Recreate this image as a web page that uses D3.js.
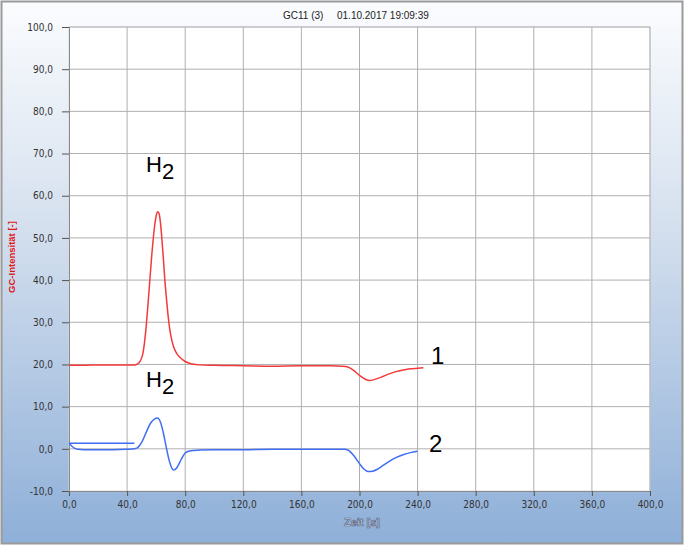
<!DOCTYPE html>
<html>
<head>
<meta charset="utf-8">
<script src="https://cdn.jsdelivr.net/npm/d3@7"></script>
<style>
  body { margin: 0; background: #fff; }
  text { font-family: "Liberation Sans", Arial, sans-serif; }
</style>
</head>
<body>
<div id="chart"></div>
<script>
// data
const xTicks = [0, 40, 80, 120, 160, 200, 240, 280, 320, 360, 400];
const yTicks = [-10, 0, 10, 20, 30, 40, 50, 60, 70, 80, 90, 100];

const redT = [0,10,20,30,40,45,47,49,51,53,55,57,59,60,61,62,63,64,65,66,67,68,69,70,72,74,76,78,80,85,90,100,120,140,160,180,188,192,196,200,204,207,210,215,220,225,230,235,240,244];
const redV = [19.8,19.8,19.9,19.9,19.9,19.9,20.1,20.8,22.8,28.5,37,46,53,55.2,56.2,55.8,53.5,49.5,45,40,36,32.3,29.3,27,24.2,22.7,21.8,21.2,20.7,20.1,19.9,19.8,19.7,19.6,19.7,19.7,19.6,19.4,18.6,17.4,16.5,16.2,16.4,17.0,17.7,18.3,18.7,19.0,19.1,19.2];

const blueT = [0,2,4,6,10,20,30,40,45,47,50,53,56,59,61,63,65,67,69,71,72,74,76,78,80,83,90,100,120,140,160,180,190,193,196,200,203,206,209,212,216,220,225,230,235,240];
const blueV = [1.3,0.6,0.1,-0.1,-0.2,-0.2,-0.2,-0.1,0.0,0.2,1.5,3.8,6.0,7.1,7.3,6.3,3.7,0.3,-2.8,-4.7,-5.0,-4.6,-3.4,-2.0,-1.0,-0.5,-0.3,-0.2,-0.2,-0.1,-0.1,-0.1,-0.1,-0.5,-1.6,-3.5,-4.8,-5.4,-5.3,-4.9,-4.0,-3.1,-2.1,-1.4,-0.9,-0.6];

const flatT = [0, 45];
const flatV = [1.3, 1.3];

const W = 685, H = 547;
const plot = {left: 69, right: 650, top: 27, bottom: 491};

const svg = d3.select("#chart")
    .append("svg")
    .attr("width", W)
    .attr("height", H);

// background gradient
const grad = svg.append("defs").append("linearGradient")
    .attr("id", "bg").attr("x1", 0).attr("y1", 0).attr("x2", 0).attr("y2", 1);
grad.append("stop").attr("offset", "0%").attr("stop-color", "#fbfcfe");
grad.append("stop").attr("offset", "40%").attr("stop-color", "#d6e1ef");
grad.append("stop").attr("offset", "100%").attr("stop-color", "#8eafd8");

svg.append("rect")
    .attr("x", 1.5).attr("y", 1.5)
    .attr("width", W - 4).attr("height", H - 5)
    .attr("fill", "url(#bg)")
    .attr("stroke", "#9a9a9a")
    .attr("stroke-width", 2);

const x = d3.scaleLinear().domain([0, 400]).range([plot.left, plot.right]);
const y = d3.scaleLinear().domain([-10, 100]).range([plot.bottom, plot.top]);

svg.append("rect")
    .attr("x", plot.left).attr("y", plot.top)
    .attr("width", plot.right - plot.left).attr("height", plot.bottom - plot.top)
    .attr("fill", "#fff")
    .attr("stroke", "#d8d8d8");

// grid
svg.append("g").selectAll("line")
    .data(xTicks.slice(1))
    .join("line")
    .attr("x1", d => x(d)).attr("x2", d => x(d))
    .attr("y1", plot.top).attr("y2", plot.bottom)
    .attr("stroke", "#b0b0b0");

svg.append("g").selectAll("line")
    .data(yTicks.slice(1))
    .join("line")
    .attr("x1", plot.left).attr("x2", plot.right)
    .attr("y1", d => y(d)).attr("y2", d => y(d))
    .attr("stroke", "#b0b0b0");

// axes
const fmt = d => d.toFixed(1).replace(".", ",");

const gx = svg.append("g")
    .attr("transform", `translate(0, ${plot.bottom})`)
    .call(d3.axisBottom(x).tickValues(xTicks).tickFormat(fmt).tickSize(5).tickPadding(5));
const gy = svg.append("g")
    .attr("transform", `translate(${plot.left}, 0)`)
    .call(d3.axisLeft(y).tickValues(yTicks).tickFormat(fmt).tickSize(7).tickPadding(9));

[gx, gy].forEach(g => {
  g.select(".domain").attr("stroke", "#8a8a8a");
  g.selectAll(".tick line").attr("stroke", "#555");
  g.selectAll(".tick text")
    .attr("fill", "#333")
    .style("font-size", "10px")
    .style("font-family", "'DejaVu Sans Condensed', 'Liberation Sans', sans-serif");
});

// title
svg.append("text")
    .attr("x", 283).attr("y", 19)
    .style("font-size", "10px")
    .attr("fill", "#222")
    .text("GC11 (3)");
svg.append("text")
    .attr("x", 337).attr("y", 19)
    .style("font-size", "10px")
    .attr("fill", "#222")
    .text("01.10.2017 19:09:39");

// axis labels
svg.append("text")
    .attr("transform", "translate(15, 257) rotate(-90)")
    .attr("text-anchor", "middle")
    .style("font-size", "9.5px")
    .style("font-weight", "bold")
    .attr("fill", "#e01818")
    .text("GC-Intensität [-]");

svg.append("text")
    .attr("x", 362).attr("y", 526)
    .attr("text-anchor", "middle")
    .style("font-size", "11px")
    .style("font-weight", "bold")
    .attr("fill", "#c9d3e6")
    .attr("stroke", "#5f6985")
    .attr("stroke-width", 0.7)
    .text("Zeit [s]");

// curves
const line = d3.line()
    .x(d => x(d[0]))
    .y(d => y(d[1]))
    .curve(d3.curveMonotoneX);

const red = d3.zip(redT, redV);
const blue = d3.zip(blueT, blueV);
const flat = d3.zip(flatT, flatV);

svg.append("path").datum(red)
    .attr("fill", "none").attr("stroke", "#f23a3a").attr("stroke-width", 1.5)
    .attr("d", line);
svg.append("path").datum(flat)
    .attr("fill", "none").attr("stroke", "#3f6ef2").attr("stroke-width", 1.5)
    .attr("d", line);
svg.append("path").datum(blue)
    .attr("fill", "none").attr("stroke", "#3f6ef2").attr("stroke-width", 1.5)
    .attr("d", line);

// annotations
function h2(px, py) {
  const t = svg.append("text")
      .attr("x", px).attr("y", py)
      .style("font-size", "22px")
      .attr("fill", "#000");
  t.append("tspan").text("H");
  t.append("tspan").attr("dy", 7).text("2");
}
h2(146, 172);
h2(146, 387);

svg.append("text").attr("x", 431).attr("y", 364)
    .style("font-size", "24px").attr("fill", "#000").text("1");
svg.append("text").attr("x", 429).attr("y", 452)
    .style("font-size", "24px").attr("fill", "#000").text("2");
</script>
</body>
</html>
